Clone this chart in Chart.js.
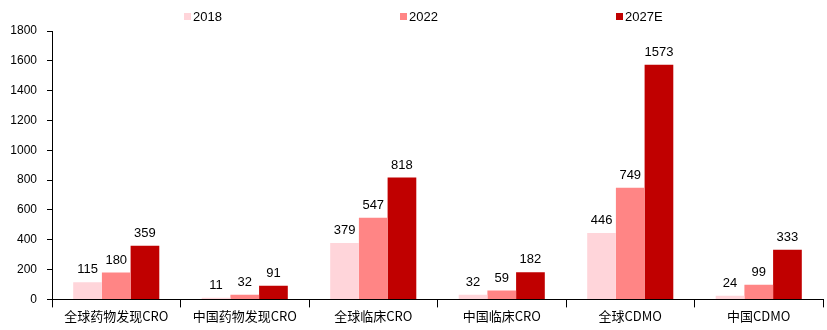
<!DOCTYPE html>
<html>
<head>
<meta charset="utf-8">
<script src="https://cdn.jsdelivr.net/npm/chart.js@4/dist/chart.umd.min.js"></script>
<style>
  html, body { margin: 0; padding: 0; background: #fff; }
  #wrap { width: 827px; height: 330px; }
</style>
</head>
<body>
<div id="wrap"><canvas id="chart"></canvas></div>
<script>
// 数据
var categories = ["全球药物发现CRO", "中国药物发现CRO", "全球临床CRO", "中国临床CRO", "全球CDMO", "中国CDMO"];
var v2018 = [115, 11, 379, 32, 446, 24];
var v2022 = [180, 32, 547, 59, 749, 99];
var v2027 = [359, 91, 818, 182, 1573, 333];
var yTicks = [0, 200, 400, 600, 800, 1000, 1200, 1400, 1600, 1800];

var FONT = "'Liberation Sans', Arial, sans-serif";

// 柱顶数值标签
var labelPlugin = {
  id: "barLabels",
  afterDatasetsDraw: function (chart) {
    var ctx = chart.ctx;
    ctx.save();
    ctx.font = "13px " + FONT;
    ctx.fillStyle = "#000";
    ctx.textAlign = "center";
    ctx.textBaseline = "bottom";
    chart.data.datasets.forEach(function (ds, i) {
      chart.getDatasetMeta(i).data.forEach(function (bar, j) {
        ctx.fillText(ds.data[j], bar.x, bar.y - 6);
      });
    });
    ctx.restore();
  }
};

// 顶部图例（间距较宽）
var legendPlugin = {
  id: "wideLegend",
  afterDraw: function (chart) {
    var ctx = chart.ctx;
    var start = 184, gap = 216;
    ctx.save();
    ctx.font = "13px " + FONT;
    ctx.textBaseline = "middle";
    ctx.textAlign = "left";
    chart.data.datasets.forEach(function (ds, i) {
      var x = start + i * gap;
      ctx.fillStyle = ds.backgroundColor;
      ctx.fillRect(x, 13, 7, 7);
      ctx.fillStyle = "#000";
      ctx.fillText(ds.label, x + 9, 17);
    });
    ctx.restore();
  }
};

new Chart(document.getElementById("chart"), {
  type: "bar",
  data: {
    labels: categories,
    datasets: [
      { label: "2018", data: v2018, backgroundColor: "#FFD5DA" },
      { label: "2022", data: v2022, backgroundColor: "#FF8585" },
      { label: "2027E", data: v2027, backgroundColor: "#C00000" }
    ]
  },
  options: {
    responsive: true,
    maintainAspectRatio: false,
    animation: false,
    layout: { padding: { left: 0, right: 4, top: 31, bottom: 5 } },
    datasets: { bar: { barPercentage: 1, categoryPercentage: 0.67 } },
    plugins: {
      legend: { display: false },
      tooltip: { enabled: false }
    },
    scales: {
      x: {
        grid: { drawOnChartArea: false, offset: true, tickLength: 8, color: "#000" },
        border: { color: "#000" },
        ticks: {
          color: "#000",
          padding: 1,
          maxRotation: 0,
          autoSkip: false,
          font: { family: "'Noto Sans CJK SC', sans-serif", size: 13 }
        }
      },
      y: {
        min: 0,
        max: 1800,
        afterBuildTicks: function (scale) {
          scale.ticks = yTicks.map(function (v) { return { value: v }; });
        },
        afterFit: function (scale) { scale.width = 52; },
        grid: { drawOnChartArea: false, tickLength: 5, color: "#000" },
        border: { color: "#000" },
        ticks: {
          color: "#000",
          padding: 10,
          autoSkip: false,
          callback: function (v) { return String(v); },
          font: { family: FONT, size: 12 }
        }
      }
    }
  },
  plugins: [labelPlugin, legendPlugin]
});
</script>
</body>
</html>
